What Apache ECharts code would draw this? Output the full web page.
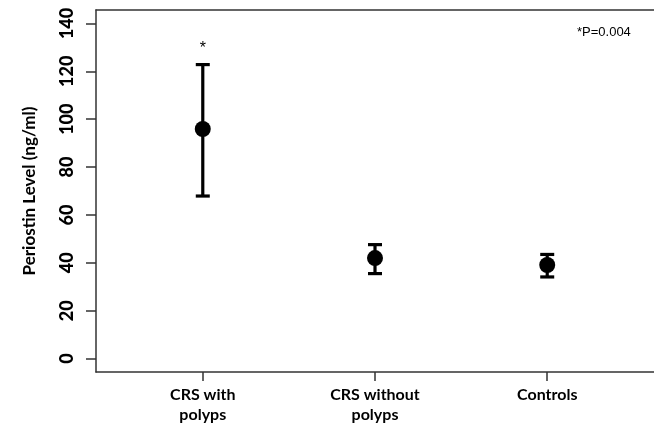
<!DOCTYPE html>
<html>
<head>
<meta charset="utf-8">
<script src="https://cdn.jsdelivr.net/npm/echarts@6/dist/echarts.min.js"></script>
<style>html,body{margin:0;padding:0;background:#fff;}#c{width:654px;height:428px;}</style>
</head>
<body>
<div id="c"></div>
<script>
var categories = ['CRS with\npolyps', 'CRS without\npolyps', 'Controls'];
var positions = [1, 2, 3];
var means = [95.9, 42.0, 39.1];
var upper = [122.8, 47.6, 43.5];
var lower = [67.9, 35.5, 34.1];
var stars = ['*', '', ''];
var yTicks = [0, 20, 40, 60, 80, 100, 120, 140];
var pText = '*P=0.004';

var chart = echarts.init(document.getElementById('c'));
var font = 'Lato, "Open Sans", sans-serif';
var barData = positions.map(function (p, i) { return [p, lower[i], upper[i], i]; });
var ptData = positions.map(function (p, i) { return [p, means[i]]; });

chart.setOption({
  animation: false,
  backgroundColor: '#fff',
  grid: { left: 96, top: 10, width: 564, height: 362, containLabel: false },
  xAxis: [{
    type: 'value', min: 0.38, max: 3.62, position: 'bottom',
    splitLine: { show: false },
    axisLine: { show: true, onZero: false, lineStyle: { color: '#333', width: 1.5 } },
    axisTick: { show: true, length: 9, customValues: positions, lineStyle: { color: '#333', width: 1.5 } },
    axisLabel: {
      show: true, customValues: positions, margin: 13,
      fontFamily: font, fontWeight: 'bold', fontSize: 16, color: '#000', lineHeight: 20,
      formatter: function (v) { var i = positions.indexOf(v); return i >= 0 ? categories[i] : ''; }
    }
  }, {
    type: 'value', min: 0.38, max: 3.62, position: 'top',
    splitLine: { show: false },
    axisLine: { show: true, onZero: false, lineStyle: { color: '#333', width: 1.5 } },
    axisTick: { show: false }, axisLabel: { show: false }
  }],
  yAxis: {
    type: 'value', min: -5.6, max: 145.6,
    name: 'Periostin Level (ng/ml)', nameLocation: 'middle', nameGap: 58, nameRotate: 90,
    nameTextStyle: { fontFamily: font, fontWeight: 'bold', fontSize: 17, color: '#000' },
    splitLine: { show: false },
    axisLine: { show: true, onZero: false, lineStyle: { color: '#333', width: 1.5 } },
    axisTick: { show: true, length: 10, customValues: yTicks, lineStyle: { color: '#333', width: 1.5 } },
    axisLabel: {
      show: true, customValues: yTicks, rotate: 90, margin: 20,
      fontFamily: font, fontWeight: 900, fontSize: 18, color: '#000'
    }
  },
  series: [{
    type: 'custom',
    data: barData,
    renderItem: function (params, api) {
      var x = api.value(0), lo = api.value(1), hi = api.value(2);
      var i = api.value(3);
      var pHi = api.coord([x, hi]), pLo = api.coord([x, lo]);
      var hw = 7;
      var st = { stroke: '#000', lineWidth: 3.2 };
      var ch = [
        { type: 'line', shape: { x1: pHi[0], y1: pHi[1], x2: pLo[0], y2: pLo[1] }, style: st },
        { type: 'line', shape: { x1: pHi[0] - hw, y1: pHi[1], x2: pHi[0] + hw, y2: pHi[1] }, style: st },
        { type: 'line', shape: { x1: pLo[0] - hw, y1: pLo[1], x2: pLo[0] + hw, y2: pLo[1] }, style: st }
      ];
      if (stars[i]) {
        ch.push({ type: 'text', x: pHi[0], y: pHi[1] - 16,
          style: { text: stars[i], fill: '#000', font: '16px "Liberation Sans", Arial, sans-serif', align: 'center', verticalAlign: 'middle' } });
      }
      return { type: 'group', children: ch };
    },
    z: 2
  }, {
    type: 'scatter',
    data: ptData,
    symbol: 'circle', symbolSize: 16,
    itemStyle: { color: '#000', opacity: 1 },
    z: 3
  }],
  graphic: [{
    type: 'text', left: 577, top: 26,
    style: { text: pText, fill: '#000', font: '13px "Liberation Sans", Arial, sans-serif' }
  }]
});
</script>
</body>
</html>
